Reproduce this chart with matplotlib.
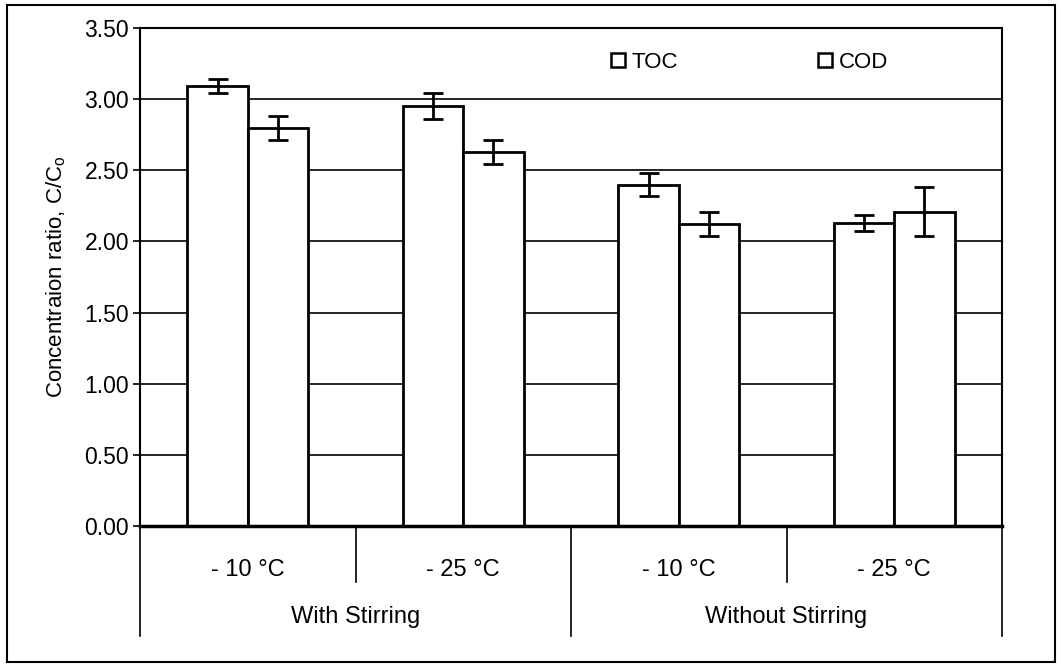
import matplotlib
matplotlib.use("Agg")
import matplotlib.pyplot as plt
from matplotlib.lines import Line2D
from matplotlib.patches import Rectangle

plt.rcParams["font.family"] = ["Liberation Sans", "DejaVu Sans"]

temps = ["- 10 \u00b0C", "- 25 \u00b0C", "- 10 \u00b0C", "- 25 \u00b0C"]
groups = ["With Stirring", "Without Stirring"]
toc = [3.09, 2.95, 2.40, 2.13]
toc_err = [0.05, 0.09, 0.08, 0.055]
cod = [2.80, 2.63, 2.12, 2.21]
cod_err = [0.085, 0.085, 0.085, 0.17]

W, H = 1061, 667
fig = plt.figure(figsize=(W / 100, H / 100), dpi=100)
ax = fig.add_axes([140 / W, 1 - 526 / H, 862 / W, 498 / H])

x = list(range(len(temps)))
w = 0.28
ax.set_axisbelow(True)
ax.yaxis.grid(True, color="black", linewidth=1.2)
err_kw = dict(ecolor="black", elinewidth=2, capsize=7, capthick=2)
ax.bar([i - w / 2 for i in x], toc, w, yerr=toc_err, color="white",
       edgecolor="black", linewidth=2, error_kw=err_kw)
ax.bar([i + w / 2 for i in x], cod, w, yerr=cod_err, color="white",
       edgecolor="black", linewidth=2, error_kw=err_kw)

ax.set_xlim(-0.5, 3.5)
ax.set_ylim(0, 3.5)
ax.set_yticks([0, 0.5, 1.0, 1.5, 2.0, 2.5, 3.0, 3.5])
ax.set_yticklabels([f"{v:.2f}" for v in ax.get_yticks()], fontsize=16.5)
ax.tick_params(axis="y", length=5, width=1.2, pad=3)
ax.set_xticks([])
for s in ["left", "right", "top"]:
    ax.spines[s].set_linewidth(1.5)
ax.spines["bottom"].set_linewidth(2.5)
ax.set_ylabel("Concentraion ratio, C/C$_\\mathregular{o}$", fontsize=16, labelpad=12)

# two-level category axis
tr = ax.get_xaxis_transform()
for b in [-0.5, 0.5, 1.5, 2.5, 3.5]:
    low = -0.221 if b in (-0.5, 1.5, 3.5) else -0.112
    ax.plot([b, b], [0, low], color="black", lw=1.2, transform=tr, clip_on=False)
for i, t in enumerate(temps):
    ax.text(i, -0.088, t, transform=tr, ha="center", va="center", fontsize=17)
for j, g in enumerate(groups):
    ax.text(2 * j + 0.5, -0.183, g, transform=tr, ha="center", va="center", fontsize=17)

handles = [Line2D([], [], ls="none", marker="s", markersize=10, markerfacecolor="white",
                  markeredgecolor="black", markeredgewidth=1.8) for _ in range(2)]
fig.legend(handles, ["TOC", "COD"], ncol=2, loc="center", frameon=False,
           bbox_to_anchor=(749 / W, 1 - 62 / H), fontsize=16, handlelength=0.7,
           handletextpad=0.25, columnspacing=6.3)

fig.patches.append(Rectangle((7 / W, 1 - 662 / H), 1048 / W, 657 / H, transform=fig.transFigure,
                             fill=False, edgecolor="black", linewidth=1.5))

fig.savefig("out.png", dpi=100)
